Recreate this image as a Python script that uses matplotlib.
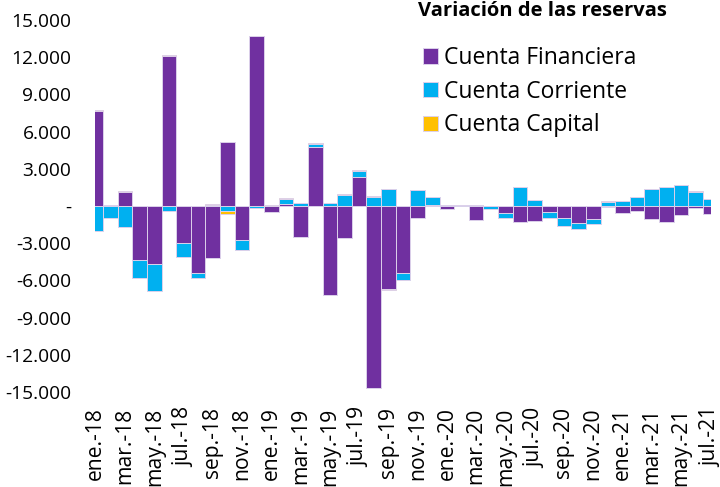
import numpy as np
import matplotlib
matplotlib.use('Agg')
import matplotlib.pyplot as plt
from matplotlib.ticker import FuncFormatter

plt.rcParams['font.family'] = ['Open Sans', 'DejaVu Sans']

# meses ene-18 .. jul-21
meses = ['ene.-18', 'feb.-18', 'mar.-18', 'abr.-18', 'may.-18', 'jun.-18', 'jul.-18', 'ago.-18',
         'sep.-18', 'oct.-18', 'nov.-18', 'dic.-18', 'ene.-19', 'feb.-19', 'mar.-19', 'abr.-19',
         'may.-19', 'jun.-19', 'jul.-19', 'ago.-19', 'sep.-19', 'oct.-19', 'nov.-19', 'dic.-19',
         'ene.-20', 'feb.-20', 'mar.-20', 'abr.-20', 'may.-20', 'jun.-20', 'jul.-20', 'ago.-20',
         'sep.-20', 'oct.-20', 'nov.-20', 'dic.-20', 'ene.-21', 'feb.-21', 'mar.-21', 'abr.-21',
         'may.-21', 'jun.-21', 'jul.-21']

financiera = [7700, 80, 1150, -4350, -4700, 12100, -3000, -5430,
              -4190, 5200, -2740, 13700, -460, 180, -2470, 4780,
              -7170, -2550, 2310, -14650, -6690, -5430, -990, 110,
              -270, -30, -1130, -40, -590, -1260, -1180, -510,
              -990, -1340, -1050, -50, -540, -400, -1050, -1290,
              -750, -190, -640]

corriente = [-2000, -990, -1720, -1480, -2150, -400, -1130, -380,
             100, -380, -800, -130, 40, 400, 240, 220,
             240, 890, 510, 750, 1370, -540, 1290, 580,
             50, 80, 80, -220, -350, 1500, 480, -430,
             -590, -480, -380, 350, 400, 700, 1340, 1500,
             1690, 1150, 560]

capital = [30, 40, 40, 30, 30, 40, 30, 30,
           40, -250, 30, 40, 60, 40, 20, 50,
           30, 70, 70, 30, -50, 40, 30, 30,
           30, 20, 20, 30, 20, 20, 20, 20,
           20, 20, 20, 20, 20, 20, 20, 20,
           20, 20, 20]

series = [('Cuenta Financiera', financiera, '#7030A0'),
          ('Cuenta Corriente', corriente, '#00B0F0'),
          ('Cuenta Capital', capital, '#FFC000')]

x = np.arange(len(meses))

fig = plt.figure(figsize=(7.2, 4.87), dpi=100)
ax = fig.add_axes([95/720, 1 - 392/487, (711 - 95)/720, (392 - 20)/487])

# apilado tipo Excel: positivos hacia arriba, negativos hacia abajo
pos = np.zeros(len(meses))
neg = np.zeros(len(meses))
for nombre, vals, col in series:
    v = np.array(vals, dtype=float)
    base = np.where(v >= 0, pos, neg)
    ax.bar(x, v, width=1.0, bottom=base, color=col, edgecolor='#dcd0ea',
           linewidth=0.7, label=nombre)
    pos = pos + np.where(v > 0, v, 0)
    neg = neg + np.where(v < 0, v, 0)

ax.set_xlim(-0.05, len(meses) - 0.95)
ax.set_ylim(-15000, 15000)
ax.set_yticks(np.arange(-15000, 15001, 3000))

def fmt(v, p):
    if v == 0:
        return '-'
    return '{:,.0f}'.format(v).replace(',', '.')

ax.yaxis.set_major_formatter(FuncFormatter(fmt))
ax.set_xticks(x[::2])
ax.set_xticklabels(meses[::2], rotation=90)
ax.tick_params(axis='both', length=0, colors='black')
ax.tick_params(axis='y', pad=17, labelsize=13.8)
ax.tick_params(axis='x', pad=11, labelsize=15.2)
for s in ax.spines.values():
    s.set_visible(False)

leg = ax.legend(loc='upper left', bbox_to_anchor=(423/720, 1 - 46/487),
                bbox_transform=fig.transFigure, frameon=False,
                fontsize=16.5, handlelength=0.65, handleheight=0.65,
                handletextpad=0.26, labelspacing=0.42, borderpad=0,
                borderaxespad=0)

fig.text(418/720, 1 - 1/487, 'Variación de las reservas',
         fontsize=14.5, fontweight='bold', ha='left', va='top')

fig.savefig('out.png', dpi=100)
